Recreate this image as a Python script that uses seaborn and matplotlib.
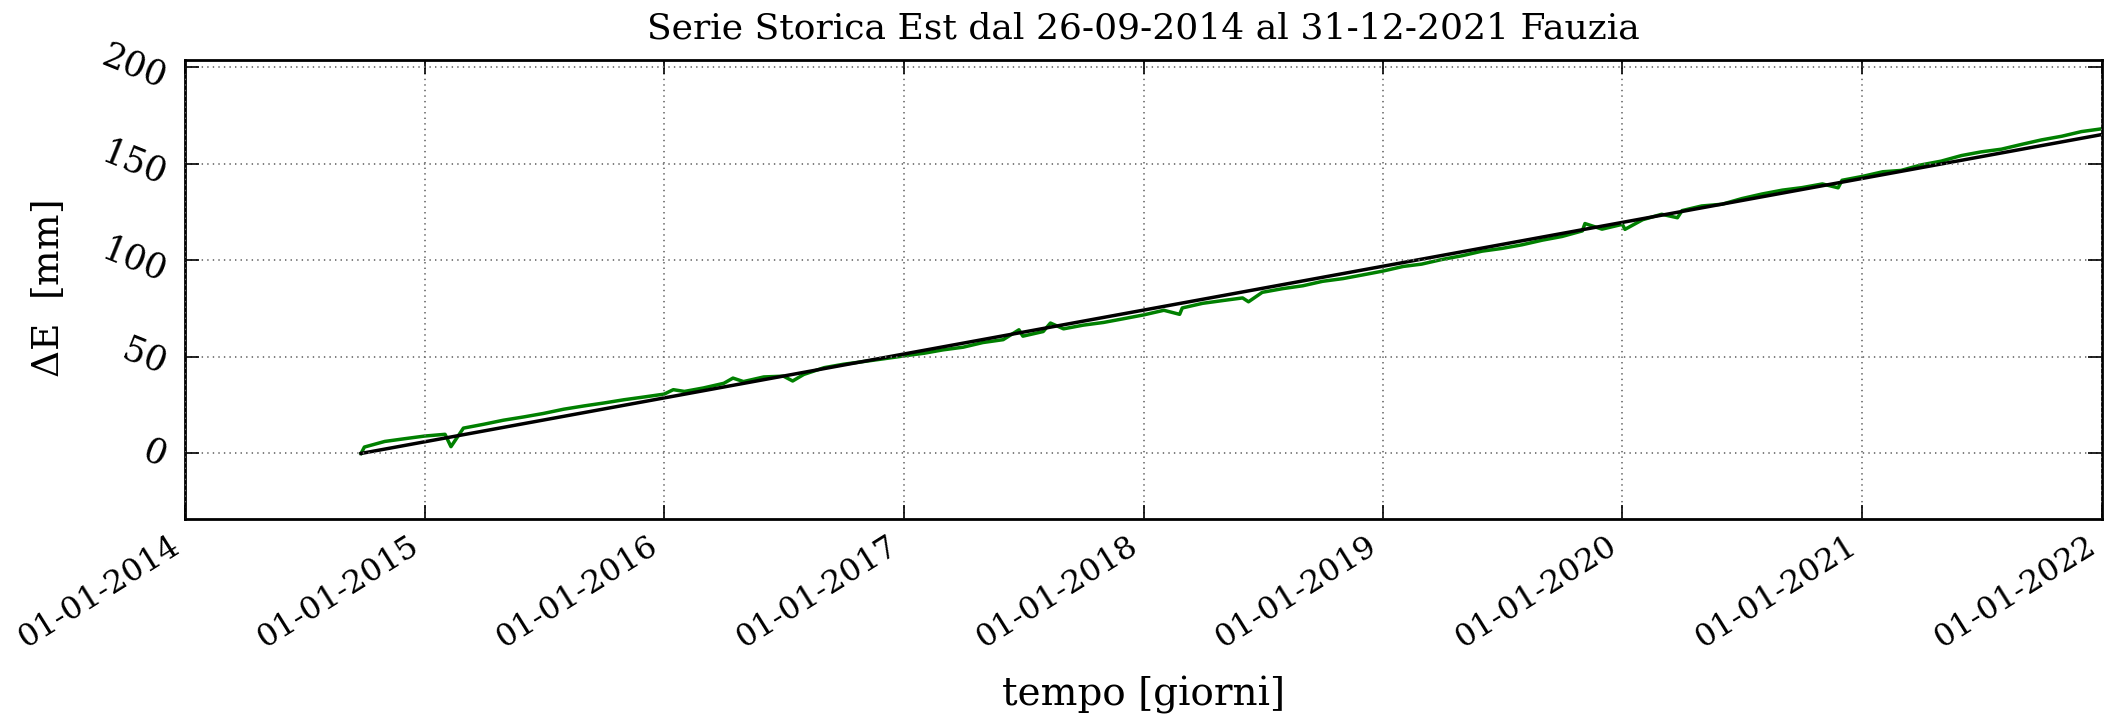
import matplotlib
matplotlib.use("Agg")
import matplotlib.pyplot as plt
import matplotlib.dates as mdates
import numpy as np
import pandas as pd
import seaborn as sns

# Serie GNSS componente Est (mm)
dates = [
	"2014-09-26", "2014-10-01", "2014-11-01", "2014-12-01",
	"2015-01-01", "2015-02-01", "2015-02-10", "2015-03-01", "2015-04-01", "2015-05-01",
	"2015-06-01", "2015-07-01", "2015-08-01", "2015-09-01", "2015-10-01", "2015-11-01",
	"2015-12-01", "2016-01-01", "2016-01-15", "2016-02-01", "2016-03-01", "2016-04-01",
	"2016-04-15", "2016-05-01", "2016-06-01", "2016-07-01", "2016-07-15", "2016-08-01",
	"2016-09-01", "2016-10-01", "2016-11-01", "2016-12-01", "2017-01-01", "2017-02-01",
	"2017-03-01", "2017-04-01", "2017-05-01", "2017-06-01", "2017-06-25", "2017-07-01",
	"2017-08-01", "2017-08-12", "2017-09-01", "2017-10-01", "2017-11-01", "2017-12-01",
	"2018-01-01", "2018-02-01", "2018-02-25", "2018-03-01", "2018-04-01", "2018-05-01",
	"2018-06-01", "2018-06-10", "2018-07-01", "2018-08-01", "2018-09-01", "2018-10-01",
	"2018-11-01", "2018-12-01", "2019-01-01", "2019-02-01", "2019-03-01", "2019-04-01",
	"2019-05-01", "2019-06-01", "2019-07-01", "2019-08-01", "2019-09-01", "2019-10-01",
	"2019-11-01", "2019-11-05", "2019-12-01", "2020-01-01", "2020-01-05", "2020-02-01",
	"2020-03-01", "2020-03-25", "2020-04-01", "2020-05-01", "2020-06-01", "2020-07-01",
	"2020-08-01", "2020-09-01", "2020-10-01", "2020-11-01", "2020-11-25", "2020-12-01",
	"2021-01-01", "2021-02-01", "2021-03-01", "2021-04-01", "2021-05-01", "2021-06-01",
	"2021-07-01", "2021-08-01", "2021-09-01", "2021-10-01", "2021-11-01", "2021-12-01",
	"2021-12-31",
]
east = [
	0.0, 3.3, 6.2, 7.6,
	9.0, 9.9, 3.5, 13.1, 15.1, 17.2,
	18.9, 20.7, 22.9, 24.6, 26.1, 27.8,
	29.2, 30.7, 33.0, 32.1, 33.9, 36.3,
	39.0, 37.2, 39.6, 40.0, 37.5, 40.9,
	44.4, 46.2, 47.6, 49.0, 50.5, 51.9,
	53.6, 55.0, 57.4, 58.9, 64.0, 60.7,
	63.1, 67.5, 64.5, 66.4, 67.8, 69.7,
	71.7, 74.1, 72.0, 75.3, 77.7, 79.1,
	80.5, 78.5, 83.4, 85.3, 86.8, 89.1,
	90.5, 92.4, 94.4, 96.8, 98.0, 100.4,
	102.3, 104.7, 106.1, 108.0, 110.4, 112.3,
	115.2, 119.0, 116.1, 118.6, 116.0, 121.0,
	123.8, 122.0, 125.7, 128.1, 129.0, 131.9,
	134.3, 136.3, 137.6, 139.5, 137.5, 141.4,
	143.4, 145.8, 146.5, 149.4, 151.3, 154.2,
	156.1, 157.5, 160.0, 162.3, 164.2, 166.6,
	168.0,
]
# retta di regressione (estremi)
fit_dates = ["2014-09-26", "2021-12-31"]
fit_east = [0.0, 165.0]

x_ticks = [f"{y}-01-01" for y in range(2014, 2023)]
y_ticks = [0, 50, 100, 150, 200]

plt.style.use("classic")
plt.rcParams["font.family"] = "DejaVu Serif"
plt.rcParams["mathtext.fontset"] = "dejavuserif"

df = pd.DataFrame({"data": pd.to_datetime(dates), "E": east})
df_fit = pd.DataFrame({"data": pd.to_datetime(fit_dates), "E": fit_east})

fig = plt.figure(figsize=(21.06, 7.18), dpi=100)
ax = fig.add_axes([0.088, 0.277, 0.910, 0.639])

sns.lineplot(data=df, x="data", y="E", color="g", linewidth=2.5, ax=ax)
sns.lineplot(data=df_fit, x="data", y="E", color="k", linewidth=2.5, ax=ax)

ax.set_xlim(pd.Timestamp("2014-01-01"), pd.Timestamp("2022-01-01"))
ax.set_ylim(-34, 203.5)
ax.set_xticks(pd.to_datetime(x_ticks))
ax.xaxis.set_major_formatter(mdates.DateFormatter("%d-%m-%Y"))
ax.set_yticks(y_ticks)
ax.grid(True, color="0.45", linestyle=":", linewidth=1.3)
ax.tick_params(axis="x", labelsize=23, length=10, width=1.2, pad=8)
ax.tick_params(axis="y", labelsize=25, length=10, width=1.2, pad=10)
for lab in ax.get_xticklabels():
	lab.set_rotation(32)
	lab.set_ha("right")
for lab in ax.get_yticklabels():
	lab.set_rotation(-22)
for s in ax.spines.values():
	s.set_linewidth(2)

ax.set_title("Serie Storica Est dal 26-09-2014 al 31-12-2021 Fauzia", fontsize=26, pad=16)
ax.set_xlabel("tempo [giorni]", fontsize=28, labelpad=16)
ax.set_ylabel(r"$\Delta$E  [mm]", fontsize=27, labelpad=22)

plt.savefig("out.png", dpi=100)
plt.close("all")
